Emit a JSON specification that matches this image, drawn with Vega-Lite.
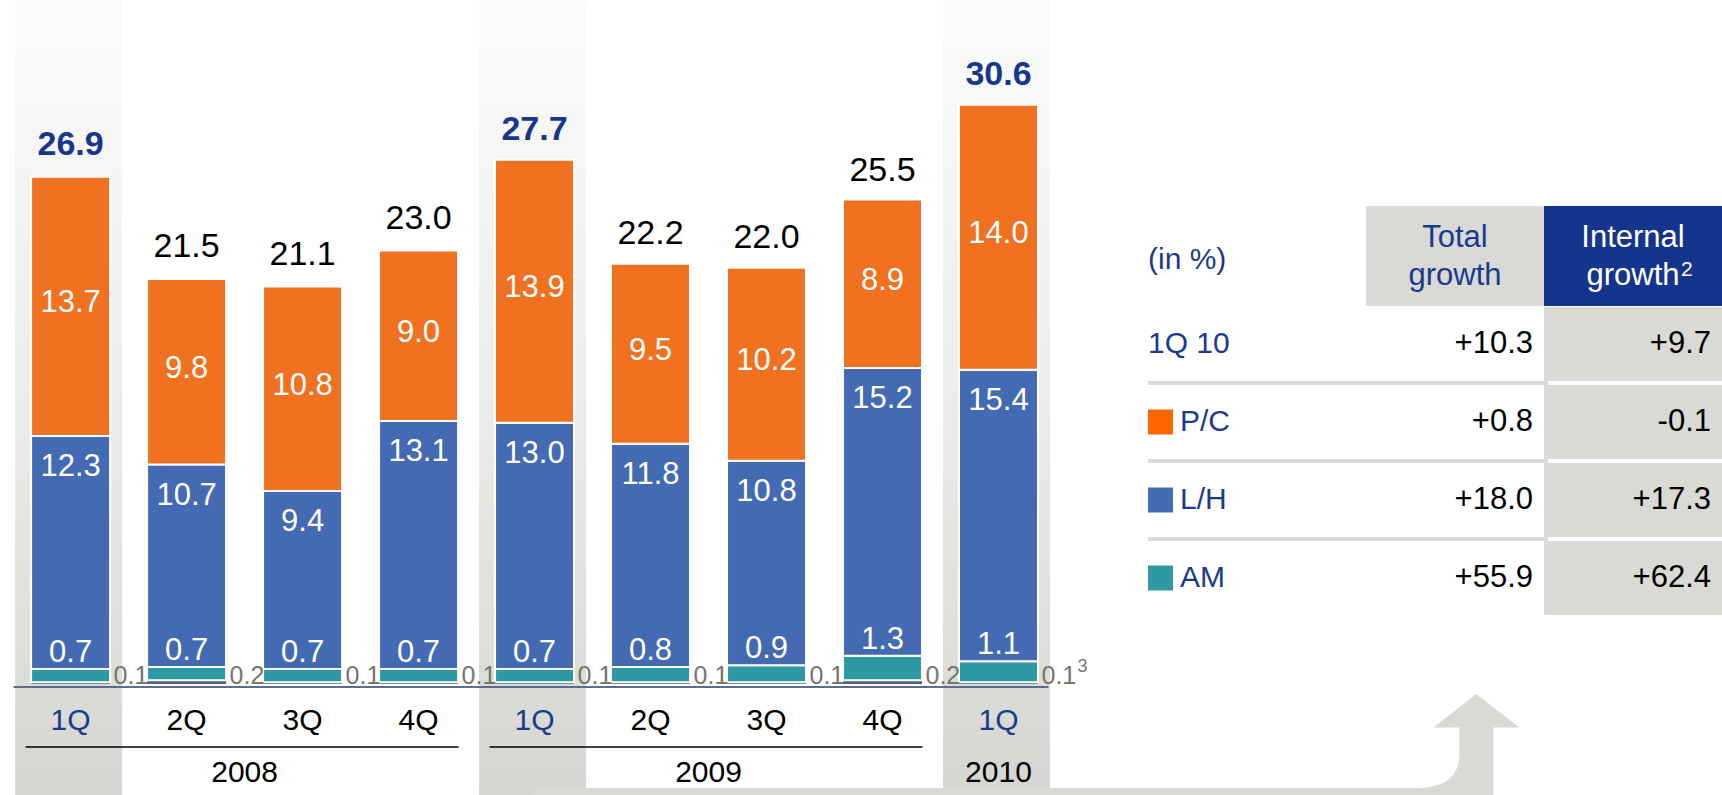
{
  "$schema": "https://vega.github.io/schema/vega-lite/v6.json",
  "width": 1722,
  "height": 795,
  "autosize": {"type": "none"},
  "padding": 0,
  "background": "white",
  "config": {
    "font": "Liberation Sans",
    "view": {"stroke": null},
    "text": {"font": "Liberation Sans"},
    "locale": {"number": {"decimal": ".", "thousands": ",", "grouping": [3], "currency": ["$", ""], "minus": "-"}}
  },
  "datasets": {
    "q": [
      {"period": "1Q08", "quarter": "1Q", "year": "2008", "idx": 0, "total": 26.9, "Corp": 0.1, "AM": 0.7, "LH": 12.3, "PC": 13.7},
      {"period": "2Q08", "quarter": "2Q", "year": "2008", "idx": 1, "total": 21.5, "Corp": 0.2, "AM": 0.7, "LH": 10.7, "PC": 9.8},
      {"period": "3Q08", "quarter": "3Q", "year": "2008", "idx": 2, "total": 21.1, "Corp": 0.1, "AM": 0.7, "LH": 9.4, "PC": 10.8},
      {"period": "4Q08", "quarter": "4Q", "year": "2008", "idx": 3, "total": 23.0, "Corp": 0.1, "AM": 0.7, "LH": 13.1, "PC": 9.0},
      {"period": "1Q09", "quarter": "1Q", "year": "2009", "idx": 4, "total": 27.7, "Corp": 0.1, "AM": 0.7, "LH": 13.0, "PC": 13.9},
      {"period": "2Q09", "quarter": "2Q", "year": "2009", "idx": 5, "total": 22.2, "Corp": 0.1, "AM": 0.8, "LH": 11.8, "PC": 9.5},
      {"period": "3Q09", "quarter": "3Q", "year": "2009", "idx": 6, "total": 22.0, "Corp": 0.1, "AM": 0.9, "LH": 10.8, "PC": 10.2},
      {"period": "4Q09", "quarter": "4Q", "year": "2009", "idx": 7, "total": 25.5, "Corp": 0.2, "AM": 1.3, "LH": 15.2, "PC": 8.9},
      {"period": "1Q10", "quarter": "1Q", "year": "2010", "idx": 8, "total": 30.6, "Corp": 0.1, "AM": 1.1, "LH": 15.4, "PC": 14.0, "note": "3"}
    ],
    "tbl": [
      {"row": "1Q 10", "series": "", "total": 10.3, "internal": 9.7},
      {"row": "P/C", "series": "PC", "total": 0.8, "internal": -0.1},
      {"row": "L/H", "series": "LH", "total": 18.0, "internal": 17.3},
      {"row": "AM", "series": "AM", "total": 55.9, "internal": 62.4}
    ],
    "cols": [
      {"col": "total", "title": "Total\ngrowth", "note": ""},
      {"col": "internal", "title": "Internal\ngrowth", "note": "2"}
    ]
  },
  "resolve": {"scale": {"x": "independent", "y": "independent", "color": "independent"}},
  "layer": [
    {
      "data": {"name": "q"},
      "layer": [
        {
          "transform": [{"filter": "datum.quarter === '1Q'"}],
          "mark": {"type": "bar", "width": 107, "xOffset": -2, "color": {"x1": 0, "y1": 0, "x2": 0, "y2": 1, "gradient": "linear", "stops": [{"offset": 0, "color": "#FCFCFC"}, {"offset": 0.5, "color": "#ECECEA"}, {"offset": 1, "color": "#D5D5D1"}]}},
          "encoding": {
            "x": {"field": "idx", "type": "quantitative", "scale": {"domain": [-0.5657, 14.195], "nice": false, "zero": false}, "axis": null},
            "y": {"datum": 36.14, "type": "quantitative", "scale": {"domain": [-5.86, 36.14], "nice": false, "zero": false}, "axis": null},
            "y2": {"datum": -5.86}
          }
        },
        {
          "data": {"values": [{}]},
          "mark": {"type": "rect", "color": "#D9D9D5"},
          "encoding": {
            "x": {"datum": 4, "type": "quantitative", "scale": {"domain": [-0.5657, 14.195], "nice": false, "zero": false}, "axis": null},
            "x2": {"datum": 11.65},
            "y": {"datum": -5.86, "type": "quantitative", "scale": {"domain": [-5.86, 36.14], "nice": false, "zero": false}, "axis": null},
            "y2": {"datum": -5.49}
          }
        },
        {
          "data": {"values": [{}]},
          "mark": {"type": "point", "shape": "M0,-1.136L0.977,-0.375L0.386,-0.375L0.386,1.159L-1.364,1.159L-1.364,1.0Q-0.386,1.0,-0.386,0.227L-0.386,-0.375L-0.977,-0.375Z", "size": 7744, "filled": true, "color": "#D9D9D5", "opacity": 1, "strokeWidth": 0},
          "encoding": {
            "x": {"datum": 12.12, "type": "quantitative", "scale": {"domain": [-0.5657, 14.195], "nice": false, "zero": false}, "axis": null},
            "y": {"datum": -3.17, "type": "quantitative", "scale": {"domain": [-5.86, 36.14], "nice": false, "zero": false}, "axis": null}
          }
        },
        {
          "transform": [{"aggregate": [{"op": "min", "field": "idx", "as": "lo"}, {"op": "max", "field": "idx", "as": "hi"}]}],
          "mark": {"type": "rule", "color": "#5D6C8C", "strokeWidth": 2, "xOffset": -57, "x2Offset": 50, "yOffset": 3},
          "encoding": {
            "x": {"field": "lo", "type": "quantitative", "scale": {"domain": [-0.5657, 14.195], "nice": false, "zero": false}, "axis": null},
            "x2": {"field": "hi"},
            "y": {"datum": 0, "type": "quantitative", "scale": {"domain": [-5.86, 36.14], "nice": false, "zero": false}, "axis": null}
          }
        },
        {
          "transform": [
            {"fold": ["Corp", "AM", "LH", "PC"], "as": ["series", "value"]},
            {"stack": "value", "groupby": ["idx"], "as": ["y0", "y1"]}
          ],
          "mark": {"type": "bar", "width": 79, "stroke": "white"},
          "encoding": {
            "x": {"field": "idx", "type": "quantitative", "scale": {"domain": [-0.5657, 14.195], "nice": false, "zero": false}, "axis": null},
            "y": {"field": "y0", "type": "quantitative", "scale": {"domain": [-5.86, 36.14], "nice": false, "zero": false}, "axis": null},
            "y2": {"field": "y1"},
            "color": {"field": "series", "type": "nominal", "scale": {"domain": ["Corp", "AM", "LH", "PC"], "range": ["#56637D", "#2E98A5", "#436AB3", "#F07120"]}, "legend": null},
            "strokeWidth": {"condition": {"test": "datum.series === 'Corp'", "value": 0}, "value": 2}
          }
        },
        {
          "transform": [
            {"fold": ["Corp", "AM", "LH", "PC"], "as": ["series", "value"]},
            {"stack": "value", "groupby": ["idx"], "as": ["y0", "y1"]},
            {"filter": "datum.series === 'PC'"},
            {"fold": ["y0", "y1"], "as": ["k", "yy"]},
            {"aggregate": [{"op": "mean", "field": "yy", "as": "ymid"}], "groupby": ["idx", "value"]}
          ],
          "mark": {"type": "text", "color": "white", "fontSize": 31, "baseline": "middle", "dy": -3},
          "encoding": {
            "x": {"field": "idx", "type": "quantitative", "scale": {"domain": [-0.5657, 14.195], "nice": false, "zero": false}, "axis": null},
            "y": {"field": "ymid", "type": "quantitative", "scale": {"domain": [-5.86, 36.14], "nice": false, "zero": false}, "axis": null},
            "text": {"field": "value", "type": "quantitative", "format": ".1f"}
          }
        },
        {
          "transform": [
            {"fold": ["Corp", "AM", "LH", "PC"], "as": ["series", "value"]},
            {"stack": "value", "groupby": ["idx"], "as": ["y0", "y1"]},
            {"filter": "datum.series === 'LH'"}
          ],
          "mark": {"type": "text", "color": "white", "fontSize": 31, "baseline": "middle", "dy": 31},
          "encoding": {
            "x": {"field": "idx", "type": "quantitative", "scale": {"domain": [-0.5657, 14.195], "nice": false, "zero": false}, "axis": null},
            "y": {"field": "y1", "type": "quantitative", "scale": {"domain": [-5.86, 36.14], "nice": false, "zero": false}, "axis": null},
            "text": {"field": "value", "type": "quantitative", "format": ".1f"}
          }
        },
        {
          "transform": [
            {"fold": ["Corp", "AM", "LH", "PC"], "as": ["series", "value"]},
            {"stack": "value", "groupby": ["idx"], "as": ["y0", "y1"]},
            {"filter": "datum.series === 'AM'"}
          ],
          "mark": {"type": "text", "color": "white", "fontSize": 31, "baseline": "middle", "dy": -16},
          "encoding": {
            "x": {"field": "idx", "type": "quantitative", "scale": {"domain": [-0.5657, 14.195], "nice": false, "zero": false}, "axis": null},
            "y": {"field": "y1", "type": "quantitative", "scale": {"domain": [-5.86, 36.14], "nice": false, "zero": false}, "axis": null},
            "text": {"field": "value", "type": "quantitative", "format": ".1f"}
          }
        },
        {
          "transform": [
            {"fold": ["Corp"], "as": ["series", "value"]}
          ],
          "mark": {"type": "text", "color": "#76766A", "fontSize": 25, "baseline": "alphabetic", "align": "left", "dx": 43},
          "encoding": {
            "x": {"field": "idx", "type": "quantitative", "scale": {"domain": [-0.5657, 14.195], "nice": false, "zero": false}, "axis": null},
            "y": {"datum": 0, "type": "quantitative", "scale": {"domain": [-5.86, 36.14], "nice": false, "zero": false}, "axis": null},
            "text": {"field": "value", "type": "quantitative", "format": ".1f"}
          }
        },
        {
          "transform": [{"filter": "datum.note"}],
          "mark": {"type": "text", "color": "#76766A", "fontSize": 18, "baseline": "alphabetic", "align": "left", "dx": 79, "dy": -12},
          "encoding": {
            "x": {"field": "idx", "type": "quantitative", "scale": {"domain": [-0.5657, 14.195], "nice": false, "zero": false}, "axis": null},
            "y": {"datum": 0, "type": "quantitative", "scale": {"domain": [-5.86, 36.14], "nice": false, "zero": false}, "axis": null},
            "text": {"field": "note"}
          }
        },
        {
          "transform": [{"filter": "datum.quarter === '1Q'"}],
          "mark": {"type": "text", "color": "#17378C", "fontSize": 34, "fontWeight": "bold", "baseline": "alphabetic", "dy": -20},
          "encoding": {
            "x": {"field": "idx", "type": "quantitative", "scale": {"domain": [-0.5657, 14.195], "nice": false, "zero": false}, "axis": null},
            "y": {"field": "total", "type": "quantitative", "scale": {"domain": [-5.86, 36.14], "nice": false, "zero": false}, "axis": null},
            "text": {"field": "total", "type": "quantitative", "format": ".1f"}
          }
        },
        {
          "transform": [{"filter": "datum.quarter !== '1Q'"}],
          "mark": {"type": "text", "color": "black", "fontSize": 34, "baseline": "alphabetic", "dy": -20},
          "encoding": {
            "x": {"field": "idx", "type": "quantitative", "scale": {"domain": [-0.5657, 14.195], "nice": false, "zero": false}, "axis": null},
            "y": {"field": "total", "type": "quantitative", "scale": {"domain": [-5.86, 36.14], "nice": false, "zero": false}, "axis": null},
            "text": {"field": "total", "type": "quantitative", "format": ".1f"}
          }
        },
        {
          "mark": {"type": "text", "fontSize": 30, "baseline": "middle", "dy": 37},
          "encoding": {
            "x": {"field": "idx", "type": "quantitative", "scale": {"domain": [-0.5657, 14.195], "nice": false, "zero": false}, "axis": null},
            "y": {"datum": 0, "type": "quantitative", "scale": {"domain": [-5.86, 36.14], "nice": false, "zero": false}, "axis": null},
            "text": {"field": "quarter"},
            "color": {"condition": {"test": "datum.quarter === '1Q'", "value": "#1A3A8E"}, "value": "black"}
          }
        },
        {
          "transform": [{"aggregate": [{"op": "mean", "field": "idx", "as": "mid"}], "groupby": ["year"]}],
          "mark": {"type": "text", "fontSize": 30, "baseline": "middle", "dy": 89, "color": "black"},
          "encoding": {
            "x": {"field": "mid", "type": "quantitative", "scale": {"domain": [-0.5657, 14.195], "nice": false, "zero": false}, "axis": null},
            "y": {"datum": 0, "type": "quantitative", "scale": {"domain": [-5.86, 36.14], "nice": false, "zero": false}, "axis": null},
            "text": {"field": "year"}
          }
        },
        {
          "transform": [
            {"aggregate": [{"op": "min", "field": "idx", "as": "lo"}, {"op": "max", "field": "idx", "as": "hi"}, {"op": "count", "as": "n"}], "groupby": ["year"]},
            {"filter": "datum.n > 1"}
          ],
          "mark": {"type": "rule", "color": "black", "strokeWidth": 1.5, "xOffset": -45, "x2Offset": 40, "yOffset": 63},
          "encoding": {
            "x": {"field": "lo", "type": "quantitative", "scale": {"domain": [-0.5657, 14.195], "nice": false, "zero": false}, "axis": null},
            "x2": {"field": "hi"},
            "y": {"datum": 0, "type": "quantitative", "scale": {"domain": [-5.86, 36.14], "nice": false, "zero": false}, "axis": null}
          }
        }
      ]
    },
    {
      "layer": [
        {
          "data": {"name": "cols"},
          "mark": {"type": "bar", "height": 100, "yOffset": -10},
          "encoding": {
            "x": {"field": "col", "type": "nominal", "scale": {"type": "band", "domain": ["label", "total", "internal"], "range": [1188, 1722], "paddingInner": 0, "paddingOuter": 0}, "axis": null},
            "y": {"datum": "header", "type": "nominal", "scale": {"type": "band", "domain": ["header", "1Q 10", "P/C", "L/H", "AM"], "range": [227, 617], "paddingInner": 0, "paddingOuter": 0}, "axis": null},
            "color": {"condition": {"test": "datum.col === 'internal'", "value": "#14358B"}, "value": "#D9D9D5"}
          }
        },
        {
          "data": {"name": "tbl"},
          "mark": {"type": "bar", "height": 74, "color": "#D9D9D5"},
          "encoding": {
            "x": {"datum": "internal", "type": "nominal", "scale": {"type": "band", "domain": ["label", "total", "internal"], "range": [1188, 1722], "paddingInner": 0, "paddingOuter": 0}, "axis": null},
            "y": {"field": "row", "type": "nominal", "scale": {"type": "band", "domain": ["header", "1Q 10", "P/C", "L/H", "AM"], "range": [227, 617], "paddingInner": 0, "paddingOuter": 0}, "axis": null}
          }
        },
        {
          "data": {"name": "tbl"},
          "transform": [{"filter": "datum.row !== '1Q 10'"}],
          "mark": {"type": "rule", "color": "#D9D9D5", "strokeWidth": 4, "xOffset": -40, "x2Offset": 4},
          "encoding": {
            "x": {"datum": "label", "type": "nominal", "bandPosition": 0, "scale": {"type": "band", "domain": ["label", "total", "internal"], "range": [1188, 1722], "paddingInner": 0, "paddingOuter": 0}, "axis": null},
            "x2": {"datum": "total", "bandPosition": 1},
            "y": {"field": "row", "type": "nominal", "bandPosition": 0, "scale": {"type": "band", "domain": ["header", "1Q 10", "P/C", "L/H", "AM"], "range": [227, 617], "paddingInner": 0, "paddingOuter": 0}, "axis": null}
          }
        },
        {
          "data": {"name": "cols"},
          "mark": {"type": "text", "fontSize": 31, "baseline": "middle", "align": "center", "lineBreak": "\n", "lineHeight": 38, "dy": -28},
          "encoding": {
            "x": {"field": "col", "type": "nominal", "scale": {"type": "band", "domain": ["label", "total", "internal"], "range": [1188, 1722], "paddingInner": 0, "paddingOuter": 0}, "axis": null},
            "y": {"datum": "header", "type": "nominal", "scale": {"type": "band", "domain": ["header", "1Q 10", "P/C", "L/H", "AM"], "range": [227, 617], "paddingInner": 0, "paddingOuter": 0}, "axis": null},
            "text": {"field": "title"},
            "color": {"condition": {"test": "datum.col === 'internal'", "value": "white"}, "value": "#1A3A8E"}
          }
        },
        {
          "data": {"name": "cols"},
          "mark": {"type": "text", "fontSize": 21, "baseline": "middle", "align": "left", "dx": 48, "dy": 4, "color": "white"},
          "encoding": {
            "x": {"field": "col", "type": "nominal", "scale": {"type": "band", "domain": ["label", "total", "internal"], "range": [1188, 1722], "paddingInner": 0, "paddingOuter": 0}, "axis": null},
            "y": {"datum": "header", "type": "nominal", "scale": {"type": "band", "domain": ["header", "1Q 10", "P/C", "L/H", "AM"], "range": [227, 617], "paddingInner": 0, "paddingOuter": 0}, "axis": null},
            "text": {"field": "note"}
          }
        },
        {
          "data": {"values": [{"caption": "(in %)"}]},
          "mark": {"type": "text", "fontSize": 30, "baseline": "middle", "align": "left", "dx": -40, "dy": -6, "color": "#1A3A8E"},
          "encoding": {
            "x": {"datum": "label", "type": "nominal", "bandPosition": 0, "scale": {"type": "band", "domain": ["label", "total", "internal"], "range": [1188, 1722], "paddingInner": 0, "paddingOuter": 0}, "axis": null},
            "y": {"datum": "header", "type": "nominal", "scale": {"type": "band", "domain": ["header", "1Q 10", "P/C", "L/H", "AM"], "range": [227, 617], "paddingInner": 0, "paddingOuter": 0}, "axis": null},
            "text": {"field": "caption"}
          }
        },
        {
          "data": {"name": "tbl"},
          "transform": [{"filter": "datum.row === '1Q 10'"}],
          "mark": {"type": "text", "fontSize": 30, "baseline": "middle", "align": "left", "dx": -40, "color": "#1A3A8E"},
          "encoding": {
            "x": {"datum": "label", "type": "nominal", "bandPosition": 0, "scale": {"type": "band", "domain": ["label", "total", "internal"], "range": [1188, 1722], "paddingInner": 0, "paddingOuter": 0}, "axis": null},
            "y": {"field": "row", "type": "nominal", "scale": {"type": "band", "domain": ["header", "1Q 10", "P/C", "L/H", "AM"], "range": [227, 617], "paddingInner": 0, "paddingOuter": 0}, "axis": null},
            "text": {"field": "row"}
          }
        },
        {
          "data": {"name": "tbl"},
          "transform": [{"filter": "datum.row !== '1Q 10'"}],
          "mark": {"type": "text", "fontSize": 30, "baseline": "middle", "align": "left", "dx": -8, "color": "#1A3A8E"},
          "encoding": {
            "x": {"datum": "label", "type": "nominal", "bandPosition": 0, "scale": {"type": "band", "domain": ["label", "total", "internal"], "range": [1188, 1722], "paddingInner": 0, "paddingOuter": 0}, "axis": null},
            "y": {"field": "row", "type": "nominal", "scale": {"type": "band", "domain": ["header", "1Q 10", "P/C", "L/H", "AM"], "range": [227, 617], "paddingInner": 0, "paddingOuter": 0}, "axis": null},
            "text": {"field": "row"}
          }
        },
        {
          "data": {"name": "tbl"},
          "transform": [{"filter": "datum.row !== '1Q 10'"}],
          "mark": {"type": "point", "shape": "square", "size": 625, "filled": true, "opacity": 1, "xOffset": -27.5},
          "encoding": {
            "x": {"datum": "label", "type": "nominal", "bandPosition": 0, "scale": {"type": "band", "domain": ["label", "total", "internal"], "range": [1188, 1722], "paddingInner": 0, "paddingOuter": 0}, "axis": null},
            "y": {"field": "row", "type": "nominal", "scale": {"type": "band", "domain": ["header", "1Q 10", "P/C", "L/H", "AM"], "range": [227, 617], "paddingInner": 0, "paddingOuter": 0}, "axis": null},
            "color": {"field": "series", "type": "nominal", "scale": {"domain": ["PC", "LH", "AM"], "range": ["#FF6600", "#436AB3", "#2E98A5"]}, "legend": null}
          }
        },
        {
          "data": {"name": "tbl"},
          "transform": [{"fold": ["total", "internal"], "as": ["col", "v"]}],
          "mark": {"type": "text", "fontSize": 31, "baseline": "middle", "align": "right", "dx": -11, "color": "black"},
          "encoding": {
            "x": {"field": "col", "type": "nominal", "bandPosition": 1, "scale": {"type": "band", "domain": ["label", "total", "internal"], "range": [1188, 1722], "paddingInner": 0, "paddingOuter": 0}, "axis": null},
            "y": {"field": "row", "type": "nominal", "scale": {"type": "band", "domain": ["header", "1Q 10", "P/C", "L/H", "AM"], "range": [227, 617], "paddingInner": 0, "paddingOuter": 0}, "axis": null},
            "text": {"field": "v", "type": "quantitative", "format": "+.1f"}
          }
        }
      ]
    }
  ]
}
